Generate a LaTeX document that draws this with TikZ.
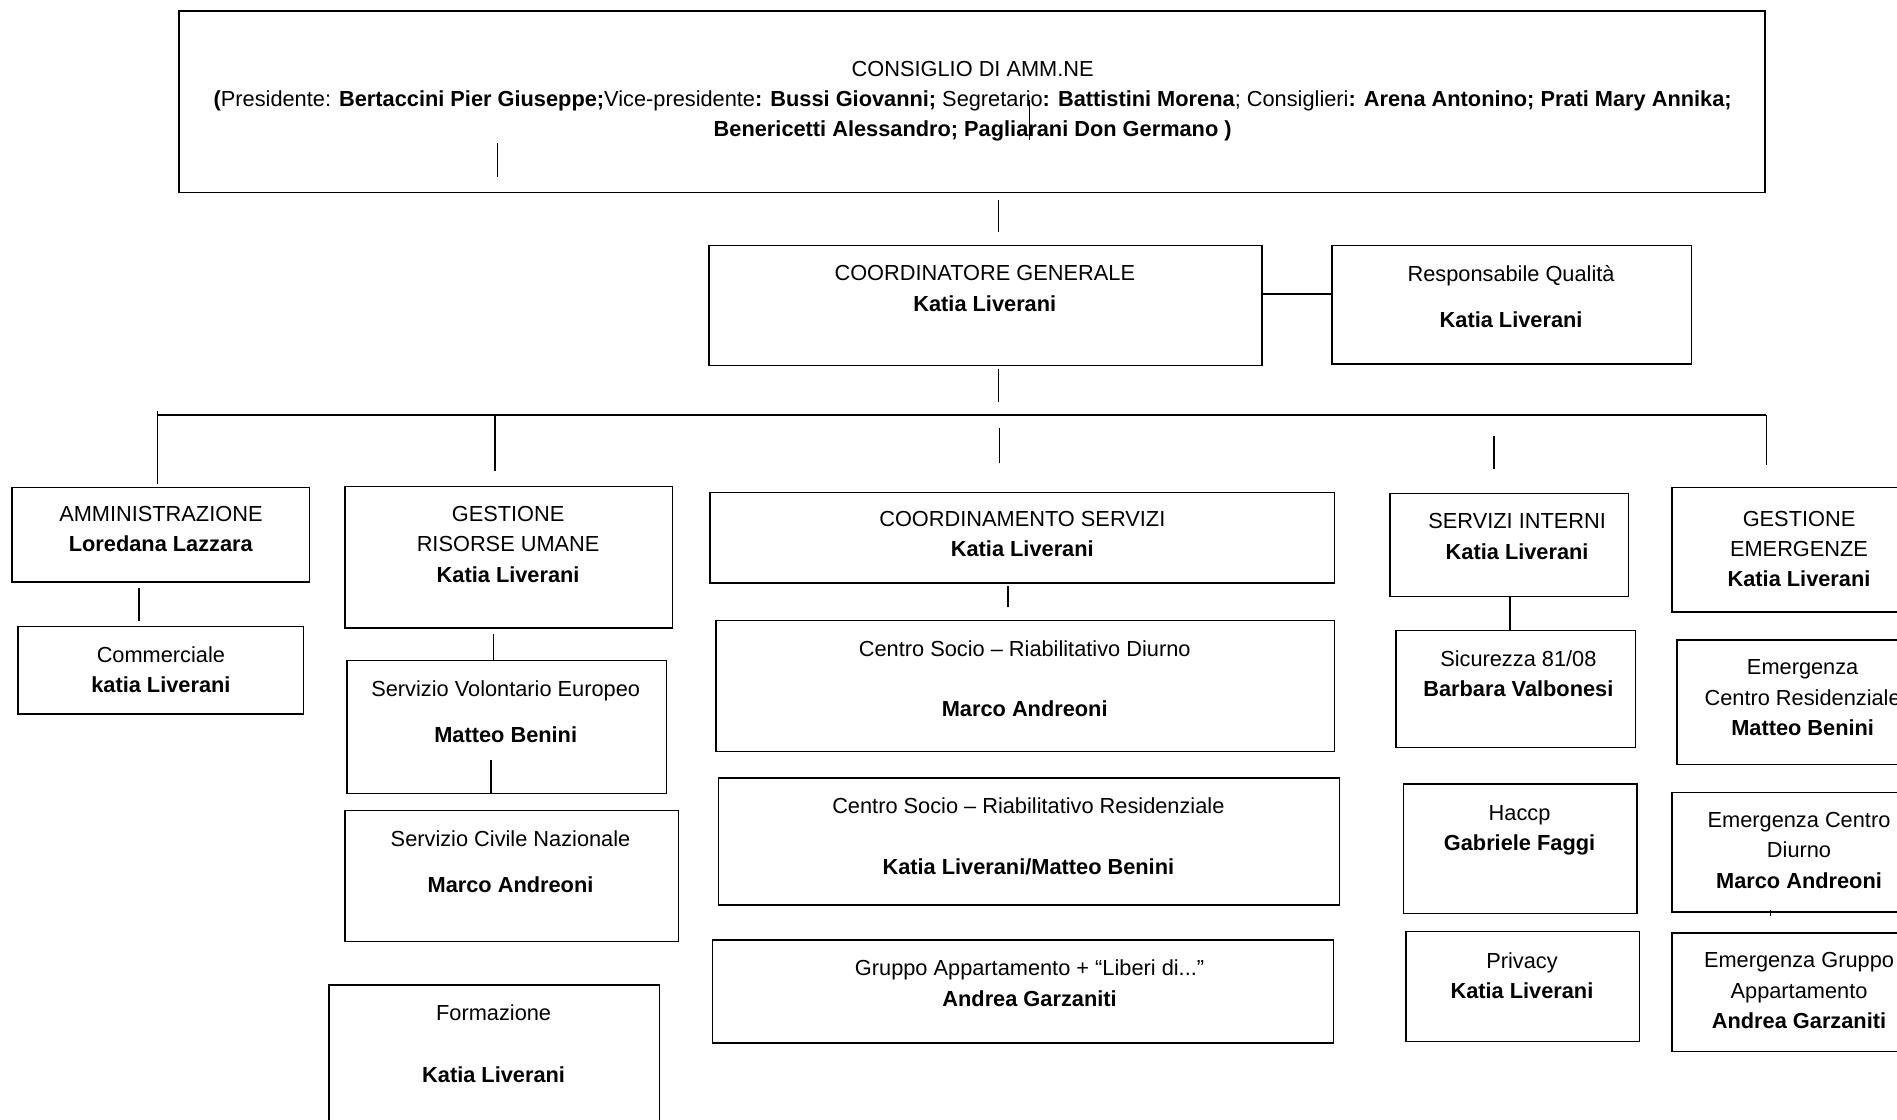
\documentclass[tikz,border=0pt]{standalone}
\usepackage{fontspec}
\setmainfont{Liberation Sans}
\usetikzlibrary{fit}
\tikzset{
  boxsty/.style={draw=black, line width=1.2pt, inner sep=0pt, outer sep=0pt},
  txtsty/.style={align=center, inner sep=0pt, outer sep=0pt, font=\fontsize{18}{25}\selectfont},
  conn/.style={line width=1.2pt},
}
% name, x1, y1, x2, y2, text-centre-x, first-line-centre-y, text
\newcommand{\orgbox}[8]{%
  \node[boxsty, fit={(#2,-#3) (#4,-#5)}] (#1) {};
  \node[txtsty, anchor=north] (#1-t) at (#6,{-(#7-6.5)}) {#8};
}
\begin{document}
\begin{tikzpicture}[x=1pt,y=1pt]
\useasboundingbox (0,0) rectangle (1568,-925);

\orgbox{cons}{148}{9}{1459}{159}{804}{57}{CONSIGLIO DI AMM.NE\\
\textbf{(}Presidente: \textbf{Bertaccini Pier Giuseppe;}Vice-presidente\textbf{: Bussi Giovanni;} Segretario\textbf{: Battistini Morena}; Consiglieri\textbf{: Arena Antonino; Prati Mary Annika;}\\
\textbf{Benericetti Alessandro; Pagliarani Don Germano )}}

\orgbox{coord}{586}{203}{1043}{302}{814}{226}{COORDINATORE GENERALE\\\textbf{Katia Liverani}}
\orgbox{resp}{1101}{203}{1398}{301}{1249}{226}{Responsabile Qualità\\[13pt]\textbf{Katia Liverani}}

\orgbox{amm}{10}{403}{256}{481}{133}{425}{AMMINISTRAZIONE\\\textbf{Loredana Lazzara}}
\orgbox{comm}{15}{518}{251}{590}{133}{541}{Commerciale\\\textbf{katia Liverani}}

\orgbox{gru}{285}{402}{556}{519}{420}{425}{GESTIONE\\RISORSE UMANE\\\textbf{Katia Liverani}}
\orgbox{sve}{287}{546}{551}{656}{418}{569}{Servizio Volontario Europeo\\[13pt]\textbf{Matteo Benini}}
\orgbox{scn}{285}{670}{561}{778}{422}{693}{Servizio Civile Nazionale\\[13pt]\textbf{Marco Andreoni}}
\orgbox{form}{272}{814}{545}{932}{408}{837}{Formazione\\[26pt]\textbf{Katia Liverani}}

\orgbox{cs}{587}{407}{1103}{482}{845}{429}{COORDINAMENTO SERVIZI\\\textbf{Katia Liverani}}
\orgbox{csd}{592}{513}{1103}{621}{847}{536}{Centro Socio – Riabilitativo Diurno\\[25pt]\textbf{Marco Andreoni}}
\orgbox{csr}{594}{643}{1107}{748}{850}{666}{Centro Socio – Riabilitativo Residenziale\\[25pt]\textbf{Katia Liverani/Matteo Benini}}
\orgbox{ga}{589}{777}{1102}{862}{851}{800}{Gruppo Appartamento + “Liberi di...”\\\textbf{Andrea Garzaniti}}

\orgbox{si}{1149}{408}{1346}{493}{1254}{431}{SERVIZI INTERNI\\\textbf{Katia Liverani}}
\orgbox{sic}{1154}{521}{1352}{618}{1255}{544}{Sicurezza 81/08\\\textbf{Barbara Valbonesi}}
\orgbox{hac}{1160}{648}{1353}{755}{1256}{672}{Haccp\\\textbf{Gabriele Faggi}}
\orgbox{priv}{1162}{770}{1355}{861}{1258}{794}{Privacy\\\textbf{Katia Liverani}}

\orgbox{ge}{1382}{403}{1580}{506}{1487}{429}{GESTIONE\\EMERGENZE\\\textbf{Katia Liverani}}
\orgbox{ecr}{1386}{529}{1580}{632}{1490}{552}{Emergenza\\Centro Residenziale\\\textbf{Matteo Benini}}
\orgbox{ecd}{1382}{655}{1580}{754}{1487}{678}{Emergenza Centro\\Diurno\\\textbf{Marco Andreoni}}
\orgbox{ega}{1382}{771}{1580}{869}{1487}{794}{Emergenza Gruppo\\Appartamento\\\textbf{Andrea Garzaniti}}

% free-standing stubs and bus
\coordinate (sA1) at (411,-118); \coordinate (sA2) at (411,-146);
\coordinate (sB1) at (851,-83);  \coordinate (sB2) at (851,-116);
\coordinate (busL) at (130,-343); \coordinate (busR) at (1460,-343);
\coordinate (tC1) at (826,-354); \coordinate (tC2) at (826,-383);
\coordinate (tS1) at (1235,-360); \coordinate (tS2) at (1235,-388);
\coordinate (tE1) at (1463,-752); \coordinate (tE2) at (1463,-757);

\draw[conn] (sA1) -- (sA2);
\draw[conn, line width=0.9pt] (sB1) -- (sB2);
\draw[conn, shorten <=6pt, shorten >=11pt] ([xshift=11pt]coord.north |- cons.south) -- ([xshift=11pt]coord.north);
\draw[conn] (coord.east |- 0,-243) -- (resp.west |- 0,-243);
\draw[conn, shorten <=3pt, shorten >=11pt] ([xshift=11pt]coord.south) -- ([xshift=11pt]coord.south |- busL);
\draw[conn] (busL) -- (busR);
\draw[conn] ([yshift=3pt]busL) -- ([yshift=3pt]amm.north -| busL);
\draw[conn, shorten >=13pt] (busL -| 409,0) -- (gru.north -| 409,0);
\draw[conn, shorten >=19pt] (busR) -- (ge.north -| busR);
\draw[conn] (tC1) -- (tC2);
\draw[conn] (tS1) -- (tS2);
\draw[conn, shorten <=5pt, shorten >=5pt] (amm.south -| 115,0) -- (comm.north -| 115,0);
\draw[conn, shorten <=5pt] (gru.south -| 408,0) -- (sve.north -| 408,0);
\draw[conn] (sve.south -| 406,0) -- ++(0,28);
\draw[conn, shorten <=2pt, shorten >=11pt] (cs.south -| 833,0) -- (csd.north -| 833,0);
\draw[conn] (si.south -| 1248,0) -- (sic.north -| 1248,0);
\draw[conn, line width=0.8pt] (tE1) -- (tE2);
\end{tikzpicture}
\end{document}
